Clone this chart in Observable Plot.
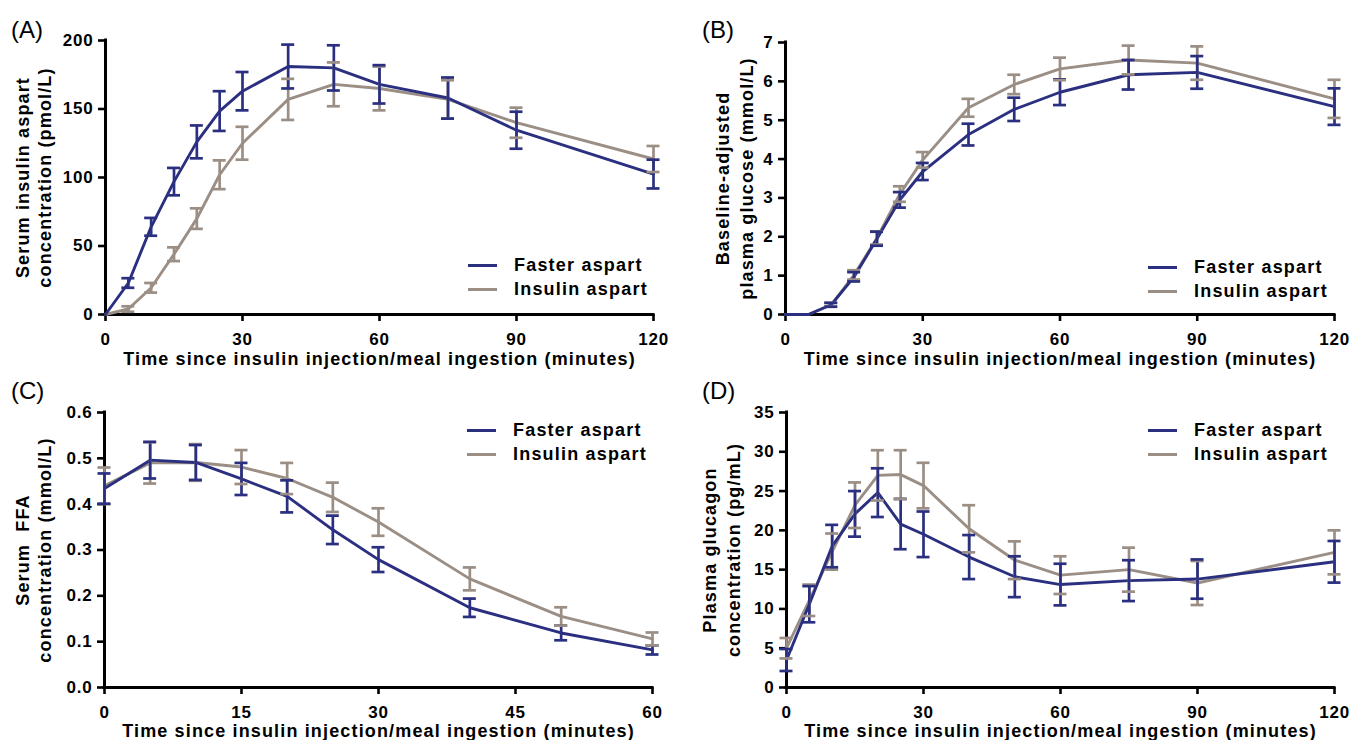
<!DOCTYPE html>
<html><head><meta charset="utf-8">
<script src="https://cdn.jsdelivr.net/npm/d3@7"></script>
<script src="https://cdn.jsdelivr.net/npm/@observablehq/plot@0.6"></script>
<style>
body{margin:0;background:#fff;}
#fig{position:relative;width:1353px;height:740px;overflow:hidden;font-family:"Liberation Sans",Arial,sans-serif;color:#000;}
.panel{position:absolute;}
.panel svg text{letter-spacing:0.8px;}
.panel svg g[aria-label="text"] text{letter-spacing:1.15px;}
.plabel{position:absolute;font-size:24px;line-height:24px;font-weight:normal;}
.legend{position:absolute;font-weight:bold;font-size:18px;letter-spacing:1.2px;}
.legend .row{display:flex;align-items:center;height:24px;white-space:nowrap;}
.legend .sw{width:29px;height:3px;margin-right:17px;}
</style></head>
<body><div id="fig"></div>
<script>
const seriesNames = ["Faster aspart", "Insulin aspart"];
const seriesColors = ["#2a2f80", "#9a8e85"];
const xTitle = "Time since insulin injection/meal ingestion (minutes)";

// Panel A: serum insulin aspart (pmol/L)
const timeA = [0, 5, 10, 15, 20, 25, 30, 40, 50, 60, 75, 90, 120];
const fasterA = [0, 23, 64, 97, 126, 148.5, 163, 181, 180, 168, 158, 134.5, 102.5];
const fasterA_sem = [0, 3.5, 6.5, 10, 12, 14.5, 14, 16, 16.5, 14, 15, 13.5, 10.5];
const insulinA = [0, 4, 19.5, 44, 70, 102, 125, 157, 168, 165, 157, 140, 113.5];
const insulinA_sem = [0, 2, 3.5, 5, 7.5, 10.5, 12, 15, 16, 16, 14, 11, 9.5];
const yTicksA = [0, 50, 100, 150, 200];
const xTicksA = [0, 30, 60, 90, 120];
const yTitleA = "Serum insulin aspart\nconcentration (pmol/L)";

// Panel B: baseline-adjusted plasma glucose (mmol/L)
const timeB = [0, 5, 10, 15, 20, 25, 30, 40, 50, 60, 75, 90, 120];
const fasterB = [0, 0, 0.25, 0.97, 1.95, 2.95, 3.68, 4.63, 5.28, 5.72, 6.17, 6.23, 5.35];
const fasterB_sem = [0, 0, 0.05, 0.12, 0.18, 0.2, 0.22, 0.28, 0.3, 0.33, 0.38, 0.42, 0.47];
const insulinB = [0, 0, 0.25, 1.02, 1.97, 3.1, 3.98, 5.32, 5.92, 6.32, 6.55, 6.47, 5.55];
const insulinB_sem = [0, 0, 0.05, 0.12, 0.17, 0.2, 0.2, 0.23, 0.25, 0.29, 0.37, 0.43, 0.49];
const yTicksB = [0, 1, 2, 3, 4, 5, 6, 7];
const xTicksB = [0, 30, 60, 90, 120];
const yTitleB = "Baseline-adjusted\nplasma glucose (mmol/L)";

// Panel C: serum FFA (mmol/L)
const timeC = [0, 5, 10, 15, 20, 25, 30, 40, 50, 60];
const fasterC = [0.434, 0.496, 0.491, 0.455, 0.417, 0.344, 0.279, 0.174, 0.119, 0.082];
const fasterC_sem = [0.033, 0.04, 0.038, 0.035, 0.035, 0.031, 0.027, 0.02, 0.016, 0.01];
const insulinC = [0.44, 0.49, 0.491, 0.481, 0.456, 0.415, 0.361, 0.237, 0.155, 0.106];
const insulinC_sem = [0.04, 0.045, 0.04, 0.037, 0.034, 0.032, 0.03, 0.025, 0.02, 0.014];
const yTicksC = [0, 0.1, 0.2, 0.3, 0.4, 0.5, 0.6];
const xTicksC = [0, 15, 30, 45, 60];
const yTitleC = "Serum  FFA\nconcentration (mmol/L)";

// Panel D: plasma glucagon (pg/mL)
const timeD = [0, 5, 10, 15, 20, 25, 30, 40, 50, 60, 75, 90, 120];
const fasterD = [3.5, 10.6, 18, 22.1, 24.8, 20.8, 19.5, 16.6, 14.1, 13.1, 13.6, 13.8, 16];
const fasterD_sem = [1.4, 2.3, 2.7, 2.9, 3.1, 3.2, 2.9, 2.8, 2.6, 2.65, 2.6, 2.5, 2.65];
const insulinD = [5, 11.1, 17.3, 23.2, 27, 27.1, 25.7, 20.2, 16.2, 14.3, 15, 13.3, 17.2];
const insulinD_sem = [1.3, 2, 2.3, 2.9, 3.2, 3.1, 2.9, 3, 2.4, 2.4, 2.8, 2.8, 2.8];
const yTicksD = [0, 5, 10, 15, 20, 25, 30, 35];
const xTicksD = [0, 30, 60, 90, 120];
const yTitleD = "Plasma glucagon\nconcentration (pg/mL)";

const fig = document.getElementById("fig");

function drawPanel(cfg) {
  const rows = [];
  // draw Insulin aspart first so Faster aspart lies on top
  [[seriesNames[1], cfg.insulin, cfg.insulinSem], [seriesNames[0], cfg.faster, cfg.fasterSem]].forEach(([name, vals, sems]) => {
    vals.forEach((v, i) => rows.push({s: name, t: cfg.times[i], v, e: sems[i]}));
  });
  const eb = rows.filter(d => d.e > 0);
  const kx = (cfg.width - cfg.ml - cfg.mr) / (cfg.xTicks[cfg.xTicks.length - 1] - cfg.xTicks[0]);
  const hc = 6.5 / kx;
  const xd = [cfg.xTicks[0], cfg.xTicks[cfg.xTicks.length - 1]];
  const yd = [cfg.yTicks[0], cfg.yTicks[cfg.yTicks.length - 1]];
  const plot = Plot.plot({
    width: cfg.width, height: cfg.height,
    marginLeft: cfg.ml, marginRight: cfg.mr, marginTop: cfg.mt, marginBottom: cfg.mb,
    style: {fontFamily: '"Liberation Sans", Arial, sans-serif', fontSize: "17px", fontWeight: "bold", color: "#000", background: "transparent", overflow: "visible"},
    x: {domain: xd, ticks: cfg.xTicks},
    y: {domain: yd, ticks: cfg.yTicks},
    color: {domain: seriesNames, range: seriesColors},
    marks: [
      Plot.axisX({ticks: cfg.xTicks, tickSize: 7, tickPadding: 11, strokeWidth: 2.6, label: null}),
      Plot.axisY({ticks: cfg.yTicks, tickSize: 7, tickPadding: 5, strokeWidth: 2.6, label: null, tickFormat: cfg.yFormat}),
      Plot.ruleX([xd[0]], {stroke: "#000", strokeWidth: 3, strokeLinecap: "square"}),
      Plot.ruleY([yd[0]], {stroke: "#000", strokeWidth: 3, strokeLinecap: "square"}),
      Plot.line(rows, {x: "t", y: "v", z: "s", stroke: "s", strokeWidth: 2.9, strokeLinejoin: "round"}),
      Plot.ruleX(eb, {x: "t", y1: d => d.v - d.e, y2: d => d.v + d.e, stroke: "s", strokeWidth: 2.7}),
      Plot.ruleY(eb, {y: d => d.v + d.e, x1: d => d.t - hc, x2: d => d.t + hc, stroke: "s", strokeWidth: 2.7}),
      Plot.ruleY(eb, {y: d => d.v - d.e, x1: d => d.t - hc, x2: d => d.t + hc, stroke: "s", strokeWidth: 2.7}),
      Plot.text([xTitle], {frameAnchor: "bottom", dy: cfg.xTitleDy, lineAnchor: "middle", textAnchor: "middle", fontSize: 18, fontWeight: "bold", fill: "#000"}),
      Plot.text([cfg.yTitle], {frameAnchor: "left", rotate: -90, lineAnchor: "top", textAnchor: "middle", dx: cfg.yTitleDx, lineHeight: cfg.lineH, fontSize: 18, fontWeight: "bold", fill: "#000"})
    ]
  });
  const div = document.createElement("div");
  div.className = "panel";
  div.style.left = cfg.left + "px";
  div.style.top = cfg.top + "px";
  div.appendChild(plot);
  fig.appendChild(div);

  const lab = document.createElement("div");
  lab.className = "plabel";
  lab.style.left = cfg.labX + "px";
  lab.style.top = cfg.labY + "px";
  lab.textContent = cfg.label;
  fig.appendChild(lab);

  const leg = document.createElement("div");
  leg.className = "legend";
  leg.style.left = cfg.legX + "px";
  leg.style.top = cfg.legY + "px";
  seriesNames.forEach((n, i) => {
    const r = document.createElement("div");
    r.className = "row";
    const sw = document.createElement("span");
    sw.className = "sw";
    sw.style.background = seriesColors[i];
    const tx = document.createElement("span");
    tx.textContent = n;
    r.appendChild(sw); r.appendChild(tx);
    leg.appendChild(r);
  });
  fig.appendChild(leg);
}

drawPanel({left: 0, top: 0, width: 676, height: 372, ml: 105, mr: 23, mt: 40, mb: 58,
  times: timeA, faster: fasterA, fasterSem: fasterA_sem, insulin: insulinA, insulinSem: insulinA_sem,
  xTicks: xTicksA, yTicks: yTicksA, yFormat: d3.format("d"), yTitle: yTitleA, yTitleDx: -92, lineH: 1.22, xTitleDy: 45,
  label: "(A)", labX: 11, labY: 18, legX: 468, legY: 253});

drawPanel({left: 676, top: 0, width: 677, height: 372, ml: 109, mr: 19, mt: 42, mb: 58,
  times: timeB, faster: fasterB, fasterSem: fasterB_sem, insulin: insulinB, insulinSem: insulinB_sem,
  xTicks: xTicksB, yTicks: yTicksB, yFormat: d3.format("d"), yTitle: yTitleB, yTitleDx: -74, lineH: 1.35, xTitleDy: 45,
  label: "(B)", labX: 702, labY: 18, legX: 1148, legY: 255});

drawPanel({left: 0, top: 372, width: 676, height: 368, ml: 104, mr: 24, mt: 40, mb: 53,
  times: timeC, faster: fasterC, fasterSem: fasterC_sem, insulin: insulinC, insulinSem: insulinC_sem,
  xTicks: xTicksC, yTicks: yTicksC, yFormat: d3.format(".1f"), yTitle: yTitleC, yTitleDx: -91, lineH: 1.22, xTitleDy: 44,
  label: "(C)", labX: 11, labY: 379, legX: 467, legY: 418});

drawPanel({left: 676, top: 372, width: 677, height: 368, ml: 110, mr: 19, mt: 40, mb: 53,
  times: timeD, faster: fasterD, fasterSem: fasterD_sem, insulin: insulinD, insulinSem: insulinD_sem,
  xTicks: xTicksD, yTicks: yTicksD, yFormat: d3.format("d"), yTitle: yTitleD, yTitleDx: -88, lineH: 1.35, xTitleDy: 44,
  label: "(D)", labX: 702, labY: 379, legX: 1148, legY: 418});
</script>
</body></html>
